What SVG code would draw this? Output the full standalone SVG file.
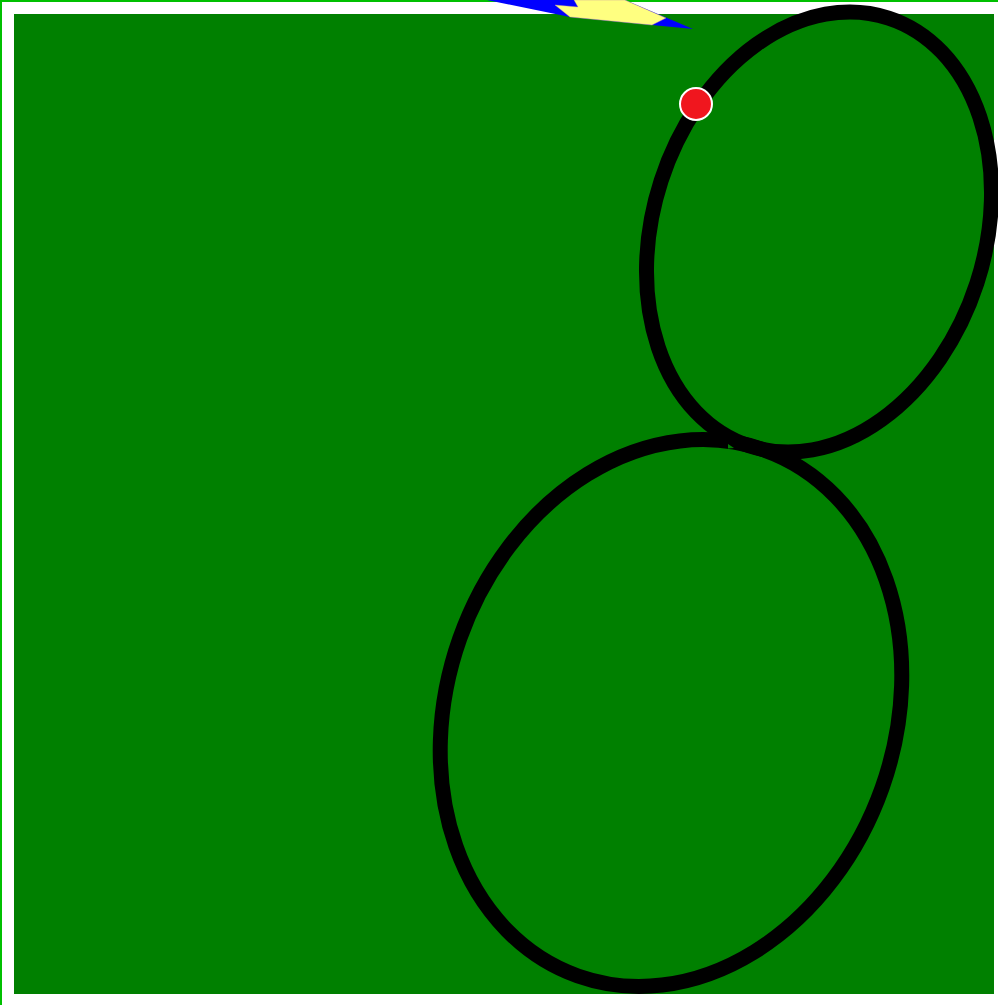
<svg xmlns="http://www.w3.org/2000/svg" width="998" height="1005" viewBox="0 0 998 1005">
<style>
.ring{fill:none;stroke:#000;stroke-width:15}
</style>
<rect x="0" y="0" width="998" height="1005" fill="#fff"/>
<rect x="1" y="1" width="1010" height="1020" fill="none" stroke="#00c000" stroke-width="2"/>
<rect x="14" y="14" width="980" height="980" fill="#008000"/>
<g id="bolt">
<polygon points="487,0 625,0 693,29 570,17" fill="#0000ff"/>
<polygon points="555,5 578,7 574,0 625,0 666,18 652,25 570,17" fill="#ffff80" stroke="#c090a0" stroke-width="0.4"/>
</g>
<g id="connectors">
<ellipse class="ring" cx="819" cy="232" rx="166" ry="225" transform="rotate(18 819 232)"/>
<ellipse class="ring" cx="671" cy="713" rx="224" ry="279" transform="rotate(19.5 671 713)"/>
<polygon points="728,444 734,448 728,448.5" fill="#008000"/>
</g>
<g id="dot">
<circle cx="696" cy="104" r="16" fill="#f0161e" stroke="#fff" stroke-width="2"/>
</g>
</svg>
